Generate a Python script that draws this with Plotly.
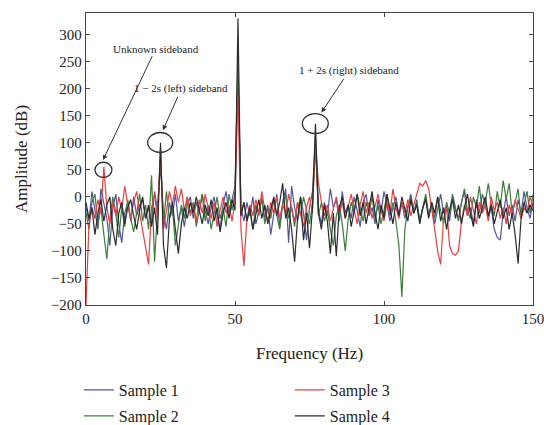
import plotly.graph_objects as go

# spectrum, 1 Hz bins, 0..150 Hz
freq = list(range(0, 151))

sample_1 = [-20, -45, 10, -30, -60, 15, -10, -40, -90, -20, 5, -50, -85, -30, -10, -45, 0, -35, -15, -5,
            -40, -20, -50, 10, -25, 60, -30, -60, -10, -35, 5, -45, -20, -55, -15, 0, -40, -10, -30, 5,
            -25, -50, -20, 0, -35, -60, -15, 10, -30, -5, 20, 240, -20, -45, -10, -35, 0, -50, -25, -5,
            -40, -15, -70, -30, 5, -55, -10, 15, -85, 20, -20, -45, 0, -30, -80, -20, 10, 110, -25, -50,
            -10, -35, 15, -20, -5, -45, 10, -30, -15, -40, 0, -25, -55, -10, 5, -35, -20, -50, -5, -30,
            10, -15, -45, -20, 0, -35, -10, -40, -15, 5, -30, -5, -45, -20, 0, -35, -10, -50, -25, 5,
            -30, -15, -45, 0, -25, -40, -10, 10, -35, -20, -50, -5, -30, 5, -15, -40, -20, -60, -75, -80,
            -30, 0, -35, -15, -45, -5, -30, 10, -20, -40, -10]

sample_2 = [-30, -60, -10, 5, -50, -20, -70, -115, -40, 0, -30, -75, -20, -55, -5, -40, -65, -25, 5, -45,
            -15, -60, 40, -120, -30, 70, -50, 10, -40, -20, -90, -55, -15, -40, 0, -30, -10, -55, -25, 5,
            -45, -15, -60, -30, 0, -40, -20, -55, 5, -25, 10, 260, -30, -10, -45, -25, -60, -15, -35, 0,
            -50, -20, -40, -5, -30, -60, -15, 5, -40, -20, -55, -10, -35, 0, -25, -50, -15, 95, -35, -10,
            -45, -25, -60, -90, -35, -15, -50, -100, -40, -10, -30, 5, -20, -45, -10, -30, 0, -40, -15, -50,
            -25, 5, -35, -10, -45, -90, -185, -60, -20, 0, -30, -10, -45, -20, 5, -35, -15, -40, 0, -25,
            -50, -10, -30, 5, -20, -45, -10, 15, -25, -40, 0, -20, 20, -30, -10, 25, -15, -35, 10, -20,
            30, -5, 25, -30, -10, 15, -40, -15, 10, -30, 5]

sample_3 = [-200, -50, -20, -40, -5, -30, 55, -20, -50, -10, -35, 0, -25, 20, -15, -40, -10, 10, -30, -60,
            -90, -125, -20, 5, -40, 90, -60, -20, 10, -15, 20, -10, 15, -25, 0, -35, -15, -45, -5, -30,
            5, -20, -40, -10, -55, -25, 0, -30, -15, -45, -10, 190, -60, -128, -40, -15, -35, -5, -30, 10,
            -25, -45, -10, -30, 0, -40, -15, -30, 5, -20, -45, -10, -30, -55, -20, 0, -30, 100, 25, -10,
            -35, -15, -45, -20, 0, -30, -10, -40, -20, 5, -25, -50, -15, 10, -30, -10, -40, -20, 5, -25,
            -45, -10, -30, 15, -20, -40, -10, -30, -5, -35, -15, 5, 25, 20, 30, 15, -20, -60, -100, -125,
            -40, -20, -90, -105, -108, -100, -45, -15, -35, 0, -25, -50, -10, -30, -15, -45, 0, -25, -10, -40,
            -20, -50, -15, -35, -5, -25, -40, -20, -30, 0, -15]

sample_4 = [-10, -40, -20, -70, -30, -5, -45, -15, 0, -60, -90, -30, -10, -50, -20, -5, -35, -60, -25, 0,
            -40, -15, -55, -20, -70, 100, -90, -132, -40, -10, -60, -105, -50, -20, -40, -10, -30, 0, -25, -50,
            -15, -35, -5, -45, -20, -65, -30, -10, -40, -5, -25, 330, -35, -10, -45, -20, -60, -30, -5, -40,
            -15, -50, -25, 0, -35, -10, 25, -40, -20, -60, -120, -40, 0, -80, -30, -95, -20, 135, -30, -60,
            -15, -45, -105, -30, -110, -20, 0, -40, -15, -55, -25, 5, -35, -10, -50, -20, 10, -30, -60, -15,
            -40, 5, -25, -50, -10, -35, 0, -20, -45, -5, -30, -15, -50, -20, -5, -40, -10, -30, 0, -45,
            -20, -60, -25, -5, -40, -15, -50, -20, 5, -30, -55, -10, -40, -20, 0, -35, -15, -50, -25, -5,
            -40, -20, -60, -30, -70, -123, -40, -10, -30, -15, -25]

names = ["Sample 1", "Sample 2", "Sample 3", "Sample 4"]
colors = ["#5454a4", "#3d7d3d", "#e8403f", "#2b2b2b"]
series = [sample_1, sample_2, sample_3, sample_4]

serif = "Liberation Serif"

fig = go.Figure()
legends = ["legend", "legend3", "legend2", "legend4"]
for s, n, c, lg in zip(series, names, colors, legends):
    fig.add_trace(go.Scatter(x=freq, y=s, mode="lines", name=n, legend=lg,
                             line=dict(color=c, width=1.2)))

# circles around the sidebands
circles = [(3.0, 36, 8.7, 64), (20.7, 82, 29.1, 119), (72.6, 117, 81.3, 154)]
for x0, y0, x1, y1 in circles:
    fig.add_shape(type="circle", xref="x", yref="y", x0=x0, y0=y0, x1=x1, y1=y1,
                  line=dict(color="#333333", width=1.3))

notes = [("Unknown sideband", 23.4, 274, 5.7, 68),
         ("1 \u2212 2s (left) sideband", 32, 200, 25.8, 123),
         ("1 + 2s (right) sideband", 88.3, 233, 79, 156)]
for txt, tx, ty, px, py in notes:
    fig.add_annotation(x=px, y=py, ax=tx, ay=ty, xref="x", yref="y", axref="x", ayref="y",
                       text=txt, showarrow=True, arrowhead=2, arrowsize=1, arrowwidth=1,
                       arrowcolor="#333333", font=dict(family=serif, size=11, color="#222222"))

axis_common = dict(showline=True, linecolor="#444444", linewidth=1.3, mirror="ticks",
                   ticks="inside", ticklen=4, tickcolor="#444444", showgrid=False,
                   zeroline=False, automargin=False,
                   tickfont=dict(family=serif, size=15, color="#222222"))

fig.update_xaxes(range=[0, 150], tickvals=[0, 50, 100, 150], ticklabeloverflow="allow",
                 title=dict(text="Frequency (Hz)", standoff=20,
                            font=dict(family=serif, size=17, color="#222222")),
                 **axis_common)
fig.update_yaxes(range=[-200, 340], tickvals=list(range(-200, 301, 50)),
                 title=dict(text="Amplitude (dB)", standoff=18,
                            font=dict(family=serif, size=17, color="#222222")),
                 **axis_common)

leg_font = dict(family=serif, size=16, color="#222222")
leg_pos = {"legend": (-0.016, -0.291), "legend3": (-0.016, -0.38),
           "legend2": (0.456, -0.291), "legend4": (0.456, -0.38)}
leg_layout = {}
for k, (lx, ly) in leg_pos.items():
    leg_layout[k] = dict(x=lx, y=ly, xanchor="left", yanchor="middle", font=leg_font,
                         bgcolor="rgba(0,0,0,0)", itemwidth=30)

fig.update_layout(width=544, height=425, plot_bgcolor="white", paper_bgcolor="white",
                  margin=dict(l=86, r=11, t=13, b=120, autoexpand=False), showlegend=True,
                  **leg_layout)

# the page body has a default 8px margin; drop it so the figure fills the window
fig.write_html("out.html", config={"displayModeBar": False},
               post_script="document.body.style.margin='0';")
